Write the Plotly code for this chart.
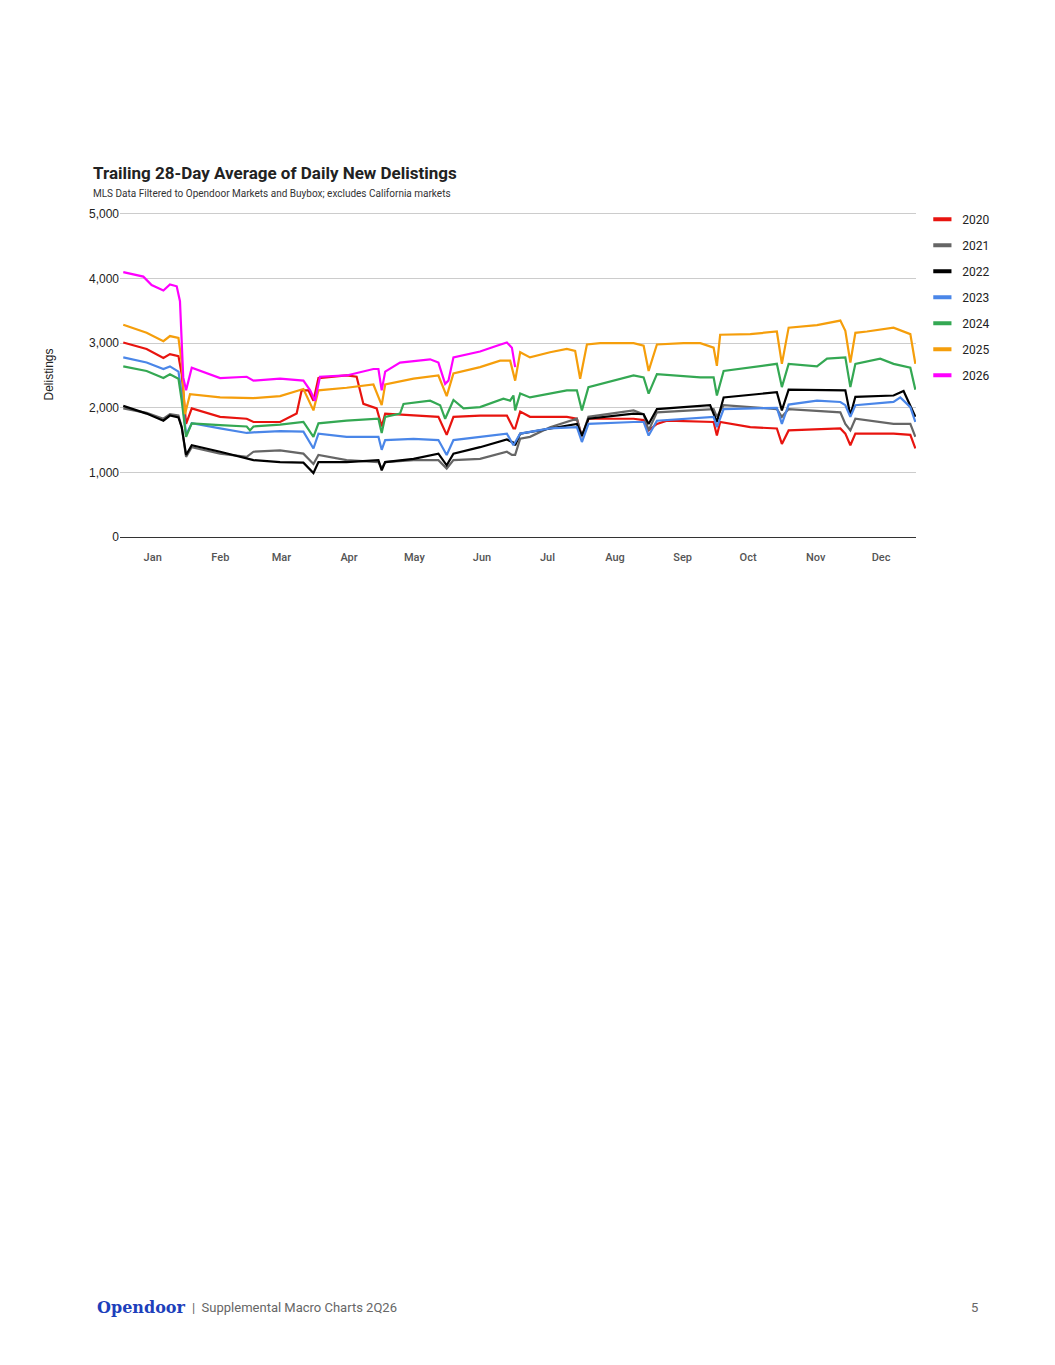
import plotly.graph_objects as go

months = ["Jan","Feb","Mar","Apr","May","Jun","Jul","Aug","Sep","Oct","Nov","Dec"]
month_days = [15,46,74,105,135,166,196,227,258,288,319,349]

d20 = [1.5,12.2,19.9,22.9,26.8,28.3,30.3,32.9,45.9,58.1,61.2,73.4,81,83.3,86.4,88.7,91,103.9,108.5,111.6,117.7,120,121.6,134.6,146,149.8,152.9,165.1,177.4,180.4,181.2,183.5,188,204.9,209.5,211.8,214.8,235.5,240.1,242.4,246.2,250.8,272.2,273.7,275.2,289,301.2,303.5,306.6,330.3,332.6,334.9,337.2,354.7,362.4,364.7]
v20 = [3010,2910,2770,2830,2800,2520,1750,1990,1860,1830,1780,1780,1910,2270,2270,2110,2460,2500,2480,2060,1990,1710,1910,1880,1860,1580,1860,1880,1880,1680,1680,1940,1860,1860,1830,1550,1830,1830,1810,1650,1750,1800,1780,1570,1780,1700,1680,1440,1650,1680,1600,1420,1600,1600,1580,1370]

d21 = [1.5,12.2,19.9,22.9,26.8,28.3,30.3,32.9,45.9,58.1,61.2,73.4,84.1,88.7,91,103.9,118.5,120,121.6,134.6,146,149.8,152.9,165.1,177.4,179.7,181.2,183.5,188,197.2,209.5,211.8,214.8,235.5,240.1,242.4,246.2,272.2,273.7,276.8,301.2,303.5,306.6,330.3,332.6,334.9,337.2,354.7,362.4,364.7]
v21 = [1990,1920,1830,1900,1880,1700,1240,1390,1290,1240,1320,1340,1290,1130,1270,1190,1160,1060,1160,1190,1190,1060,1190,1210,1320,1270,1270,1520,1550,1700,1830,1550,1860,1960,1900,1650,1930,1980,1860,2040,1980,1860,1980,1930,1750,1650,1830,1750,1750,1550]

d22 = [1.5,12.2,19.9,22.9,26.8,28.3,30.3,32.9,45.9,61.2,73.4,84.1,88.7,91,103.9,118.5,120,121.6,134.6,146,149.8,152.9,165.1,177.4,180.4,181.2,183.5,197.2,209.5,211.8,214.8,235.5,240.1,242.4,246.2,270.6,273.7,276.8,301.2,303.5,306.6,332.6,334.9,337.2,354.7,359.3,364.7]
v22 = [2030,1910,1800,1880,1850,1700,1270,1420,1320,1190,1160,1150,990,1160,1160,1190,1030,1160,1210,1290,1110,1290,1390,1510,1460,1420,1600,1680,1750,1570,1830,1910,1900,1750,1980,2040,1780,2160,2240,1960,2280,2270,1880,2170,2190,2260,1860]

d23 = [1.5,12.2,19.9,22.9,26.8,28.3,30.3,32.9,45.9,58.1,61.2,73.4,84.1,88.7,91,103.9,118.5,120,121.6,134.6,146,149.8,152.9,165.1,177.4,180.4,181.2,183.5,197.2,209.5,211.8,214.8,235.5,240.1,242.4,246.2,272.2,273.7,276.8,301.2,303.5,306.6,319.6,330.3,332.6,334.9,337.2,354.7,357.8,362.4,364.7]
v23 = [2780,2700,2600,2640,2560,2220,1580,1760,1680,1610,1620,1640,1630,1370,1600,1550,1550,1350,1500,1520,1500,1270,1500,1550,1600,1420,1470,1600,1680,1700,1470,1750,1780,1780,1570,1800,1860,1700,1980,2000,1750,2050,2110,2090,2040,1860,2040,2090,2160,2010,1780]

d24 = [1.5,12.2,19.9,22.9,26.8,28.3,30.3,32.9,45.9,58.1,59.6,61.2,73.4,84.1,88.7,91,103.9,118.5,120,121.6,128.4,130,142.2,146.8,149.1,152.9,157.5,165.1,175.8,178.9,180.4,181.2,183.5,188,204.9,209.5,211.8,214.8,235.5,240.1,242.4,246.2,266.1,272.2,273.7,276.8,301.2,303.5,306.6,319.6,324.2,332.6,334.9,337.2,348.6,354.7,362.4,364.7]
v24 = [2640,2570,2460,2520,2450,2110,1550,1760,1730,1710,1650,1710,1740,1780,1550,1760,1800,1830,1610,1860,1910,2060,2110,2040,1830,2120,1990,2010,2140,2110,2190,1960,2220,2160,2270,2270,1960,2320,2500,2470,2220,2520,2470,2470,2190,2570,2680,2320,2680,2640,2760,2780,2320,2680,2760,2680,2620,2280]

d25 = [1.5,12.2,19.9,22.9,26.8,28.3,29.8,32.1,45.9,61.2,73.4,84.1,88.7,91,103.9,116.2,120,121.6,134.6,146,149.8,152.9,165.1,174.3,178.9,181.2,183.5,188,197.2,204.9,208.7,211,214.1,220.2,235.5,240.1,242.4,246.2,258.4,266.1,272.2,273.7,275.2,289,301.2,303.5,306.6,319.6,330.3,332.6,334.9,337.2,342.5,354.7,362.4,364.7]
v25 = [3285,3160,3030,3110,3080,2700,1900,2210,2160,2150,2180,2290,1960,2270,2310,2360,2040,2360,2450,2500,2180,2530,2630,2730,2730,2420,2860,2780,2860,2910,2880,2450,2980,3000,3000,2960,2570,2980,3000,3000,2930,2650,3130,3140,3180,2680,3240,3280,3350,3190,2700,3160,3180,3240,3140,2680]

d26 = [1.5,10.7,14.5,19.9,22.9,26,27.5,29,30.3,32.9,45.9,58.1,61.2,73.4,84.1,87.2,89.4,91.7,103.9,116.2,118.5,120,121.6,128.4,142.2,146,149.1,150.6,152.9,165.1,172.8,177.4,179.7,181.2]
v26 = [4100,4030,3900,3815,3910,3880,3650,2470,2270,2620,2460,2480,2420,2450,2420,2270,2110,2480,2500,2600,2600,2270,2560,2700,2750,2700,2370,2420,2780,2870,2960,3010,2930,2630]

series = [("2020", d20, v20, "#e8140f"), ("2021", d21, v21, "#666666"), ("2022", d22, v22, "#000000"),
          ("2023", d23, v23, "#4a86e8"), ("2024", d24, v24, "#34a853"), ("2025", d25, v25, "#f59e0b"),
          ("2026", d26, v26, "#ff00ff")]

fig = go.Figure()
for name, d, v, c in series:
    fig.add_trace(go.Scatter(x=d, y=v, name=name, mode="lines", line=dict(color=c, width=2.2),
                             showlegend=False))
for name, d, v, c in series:
    fig.add_trace(go.Scatter(x=[None], y=[None], name=name, mode="markers", legendgroup=name,
                             marker=dict(symbol="line-ew", size=13, line=dict(color=c, width=4))))

P = 796.0
fig.update_layout(
    width=1055, height=1365, paper_bgcolor="white", plot_bgcolor="white",
    margin=dict(l=112, r=147, t=204, b=836),
    font=dict(family="Roboto, Arial", color="#222"),
    showlegend=True,
    legend=dict(x=1.008, y=1.022, xanchor="left", yanchor="top", font=dict(size=12, color="#222"),
                itemwidth=30, tracegroupgap=7, bgcolor="rgba(0,0,0,0)"),
    xaxis=dict(range=[0, 365], tickmode="array", tickvals=month_days, ticktext=months,
               showgrid=False, zeroline=False, showline=True, linecolor="#333", linewidth=1,
               tickfont=dict(size=11, color="#555", family="Roboto Medium, Roboto"), ticks="",
               ticklabelstandoff=10),
    yaxis=dict(range=[0, 5030], tickvals=[0,1000,2000,3000,4000,5000], tickformat=",",
               showgrid=True, gridcolor="#cccccc", zeroline=False,
               tickfont=dict(size=12, color="#222", family="Liberation Sans, Arial"),
               title=dict(text="Delistings", font=dict(size=12, color="#222", family="Liberation Sans, Arial"),
                          standoff=32)),
    annotations=[
        dict(text="<b>Trailing 28-Day Average of Daily New Delistings</b>", xref="paper", yref="paper",
             x=-0.037, y=1.083, xanchor="left", yanchor="bottom", showarrow=False,
             font=dict(size=17, color="#222", family="Roboto")),
        dict(text="MLS Data Filtered to Opendoor Markets and Buybox; excludes California markets", xref="paper",
             yref="paper", x=-0.037, y=1.034, xanchor="left", yanchor="bottom", showarrow=False,
             font=dict(size=10, color="#333", family="Roboto")),
        dict(text="<b>Opendoor</b>", xref="paper", yref="paper", x=(95-120)/P, y=-2.372, xanchor="left",
             yanchor="middle", showarrow=False, font=dict(size=16, color="#1d3fbb", family="DejaVu Serif")),
        dict(text="|  Supplemental Macro Charts 2Q26", xref="paper", yref="paper", x=(190-120)/P, y=-2.372,
             xanchor="left", yanchor="middle", showarrow=False, font=dict(size=13, color="#666", family="Roboto")),
        dict(text="5", xref="paper", yref="paper", x=(969-120)/P, y=-2.372, xanchor="left", yanchor="middle",
             showarrow=False, font=dict(size=13, color="#666", family="Roboto")),
    ],
)
fig.write_html("out.html")
